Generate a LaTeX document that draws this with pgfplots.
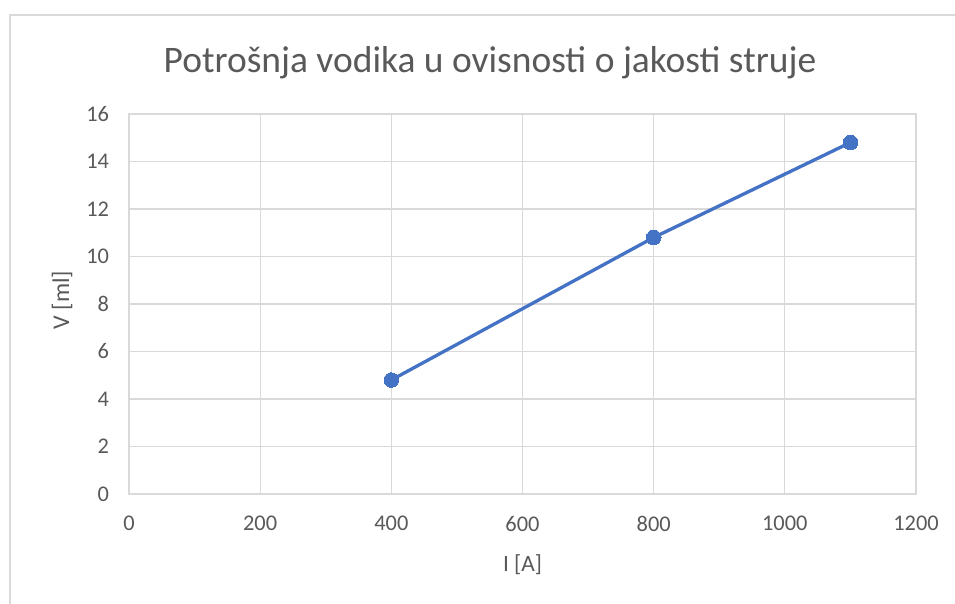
\documentclass[border=0pt]{standalone}
\usepackage{pgfplots}
\pgfplotsset{compat=1.18}
\usepackage{fontspec}
\setmainfont{Carlito}
\definecolor{txt}{HTML}{595959}
\definecolor{grd}{HTML}{D9D9D9}
\definecolor{ser}{HTML}{4472C4}
\begin{document}
\begin{tikzpicture}
\useasboundingbox (0,0) rectangle (716.25pt,452.25pt);
\draw[grd, line width=1pt] (7.5pt,-5pt) -- (7.5pt,441pt) -- (725pt,441pt);
\begin{axis}[
  at={(96.75pt,81.75pt)}, anchor=south west,
  scale only axis, width=590.25pt, height=285pt,
  xmin=0, xmax=1200, ymin=0, ymax=16,
  xtick={0,200,...,1200}, ytick={0,2,...,16},
  grid=major, major grid style={grd, line width=0.9pt},
  axis line style={grd, line width=0.9pt},
  tick style={draw=none},
  /pgf/number format/assume math mode=true,
  /pgf/number format/1000 sep={},
  ticklabel style={font=\fontsize{16.8}{20}\selectfont, text=txt},
  xticklabel style={yshift=-13pt},
  yticklabel style={xshift=-11.5pt},
  title={Potrošnja vodika u ovisnosti o jakosti struje},
  title style={at={(axis description cs:0.4587,1.115)}, anchor=center, font=\fontsize{28.1}{33}\selectfont, text=txt},
  xlabel={I [A]}, ylabel={V [ml]},
  xlabel style={at={(axis description cs:0.5,-0.1868)}, anchor=center, font=\fontsize{17.5}{21}\selectfont, text=txt},
  ylabel style={at={(axis description cs:-0.0851,0.5105)}, anchor=center, rotate=0, font=\fontsize{18}{21}\selectfont, text=txt},
]
\addplot[ser, line width=2.5pt, mark=*, mark size=5.5pt, mark options={fill=ser, draw=ser, line width=0pt}] coordinates {(400,4.8) (800,10.8) (1100,14.8)};
\end{axis}
\end{tikzpicture}
\end{document}
